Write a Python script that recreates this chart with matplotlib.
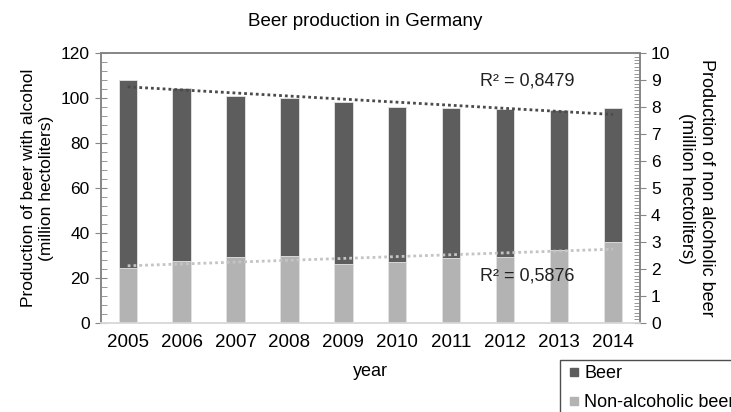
import numpy as np
import matplotlib
matplotlib.use("Agg")
import matplotlib.pyplot as plt
from matplotlib.lines import Line2D
from matplotlib.ticker import MultipleLocator

plt.rcParams["font.family"] = ["Liberation Sans", "DejaVu Sans"]

years = ["2005", "2006", "2007", "2008", "2009", "2010", "2011", "2012", "2013", "2014"]
beer = [108.0, 104.6, 100.9, 100.2, 98.2, 96.2, 95.7, 95.0, 94.6, 95.7]
non_alc = [2.02, 2.30, 2.43, 2.49, 2.18, 2.27, 2.39, 2.45, 2.70, 2.98]
r2_beer = "R² = 0,8479"
r2_non_alc = "R² = 0,5876"

dark = "#5d5d5d"
light = "#b3b3b3"
axis_col = "#868686"

fig = plt.figure(figsize=(7.31, 4.12), dpi=100)
ax = fig.add_axes([0.1378, 0.2167, 0.7377, 0.6539])
ax2 = ax.twinx()

x = np.arange(len(years))
w = 0.34
ax.bar(x, beer, width=w, color=dark, edgecolor="#e6e6e6", linewidth=0.6, zorder=2)
ax2.bar(x, non_alc, width=w, color=light, edgecolor="#e6e6e6", linewidth=0.6, zorder=2)

# linear trend lines
p = np.polyfit(x, beer, 1)
ax.plot(x[[0, -1]], np.polyval(p, x[[0, -1]]), ls=(0, (1, 1.1)), lw=2.0,
        color="#4a4a4a", zorder=3)
q = np.polyfit(x, non_alc, 1)
ax2.plot(x[[0, -1]], np.polyval(q, x[[0, -1]]), ls=(0, (1, 1.1)), lw=2.0,
         color="#c4c4c4", zorder=3)

ax.set_xlim(-0.5, len(years) - 0.5)
ax.set_ylim(0, 120)
ax2.set_ylim(0, 10)
ax.set_xticks(x)
ax.set_xticklabels(years)
ax.yaxis.set_major_locator(MultipleLocator(20))
ax.yaxis.set_minor_locator(MultipleLocator(4))
ax2.yaxis.set_major_locator(MultipleLocator(1))
ax2.yaxis.set_minor_locator(MultipleLocator(0.125))

for a in (ax, ax2):
    for s in a.spines.values():
        s.set_color(axis_col)
        s.set_linewidth(1.2)
    a.spines["bottom"].set_color("#d9d9d9")
    a.tick_params(axis="y", which="major", direction="inout", length=8,
                  color=axis_col, labelsize=12.5, pad=4)
    a.tick_params(axis="y", which="minor", direction="in", length=4,
                  color=axis_col)
ax.tick_params(axis="x", length=0, labelsize=13.5, pad=8)

ax.set_xlabel("year", fontsize=13, labelpad=9)
ax.set_ylabel("Production of beer with alcohol\n(million hectoliters)",
              fontsize=12.5, labelpad=5)
ax2.set_ylabel("Production of non alcoholic beer\n(million hectoliters)",
               fontsize=13, rotation=-90, labelpad=32)

fig.text(0.5, 0.948, "Beer production in Germany", ha="center", va="center",
         fontsize=13.5)

ax.text((527 - 100.7) / 539.3, (322.7 - 81) / 269.4, r2_beer,
        transform=ax.transAxes, ha="center", va="center", fontsize=13,
        color="#222222", zorder=5)
ax2.text((527 - 100.7) / 539.3, (322.7 - 276) / 269.4, r2_non_alc,
         transform=ax.transAxes, ha="center", va="center", fontsize=13,
         color="#222222", zorder=5)

handles = [Line2D([], [], marker="s", ls="none", color=dark, markersize=6),
           Line2D([], [], marker="s", ls="none", color=light, markersize=6)]
leg = fig.legend(handles, ["Beer", "Non-alcoholic beer"], loc="upper left",
                 bbox_to_anchor=(560 / 731, 1 - 360 / 412), fontsize=13,
                 frameon=True, fancybox=False, handletextpad=0.05,
                 borderpad=0.3, labelspacing=0.65, handlelength=1.0,
                 borderaxespad=0)
leg.get_frame().set_edgecolor("#222222")
leg.get_frame().set_linewidth(1.0)

fig.savefig("out.png", dpi=100)
